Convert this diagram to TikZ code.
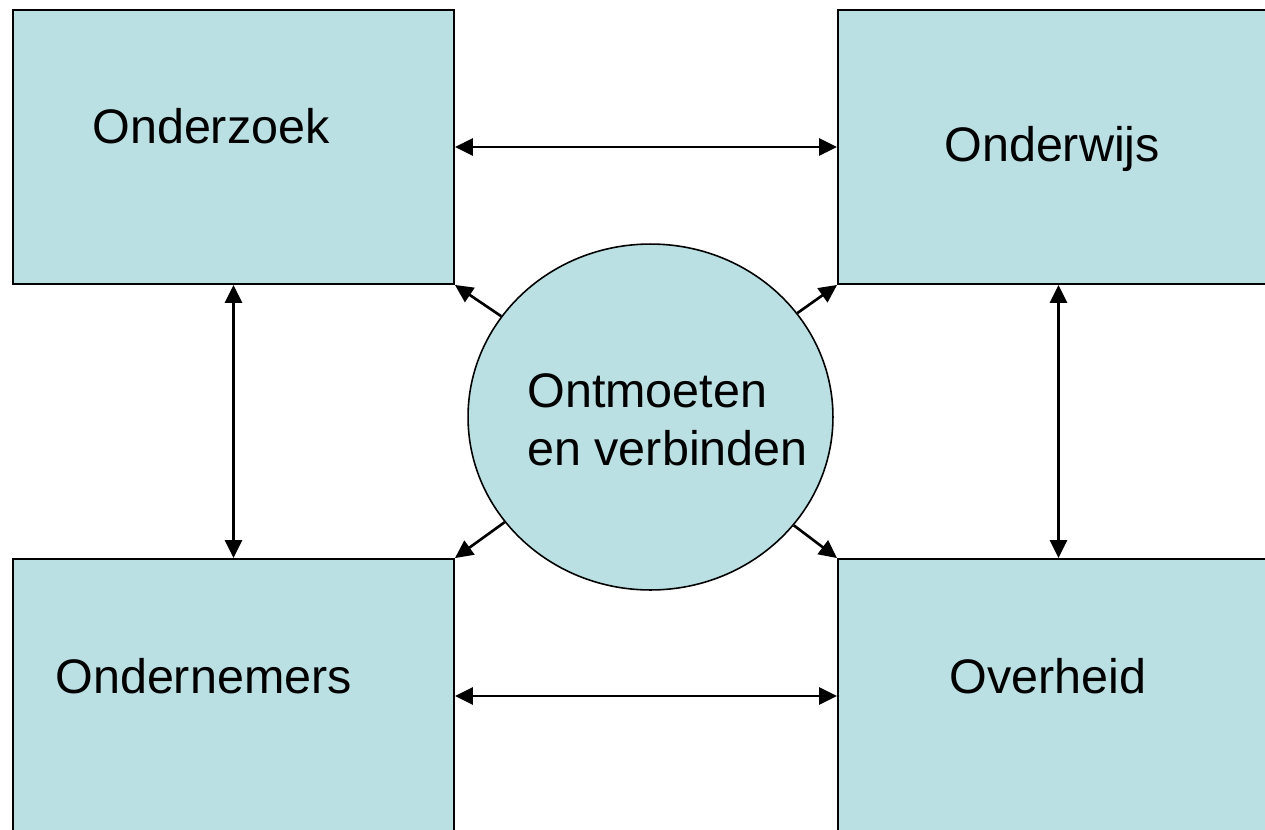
\documentclass[tikz,border=0pt]{standalone}
\usepackage{fontspec}
\setmainfont{Liberation Sans}
\usepackage{xcolor}
\usepackage{tikz}
\usetikzlibrary{positioning}
\usetikzlibrary{shapes.geometric, arrows.meta}
\definecolor{boxfill}{RGB}{186,224,227}
\tikzset{field/.style={rectangle, draw=black, line width=1.1pt, fill=boxfill, minimum width=8.82cm, minimum height=5.48cm}}
\tikzset{hub/.style={ellipse, draw=black, line width=0.9pt, fill=boxfill, minimum width=7.3cm, minimum height=6.92cm}}
\tikzset{lbl/.style={anchor=base west, inner sep=0pt, font=\fontsize{27.6}{33}\selectfont}}
\tikzset{link/.style={line width=1.5pt, {Triangle[length=0.36cm,width=0.34cm]}-{Triangle[length=0.36cm,width=0.34cm]}}}
\tikzset{spoke/.style={line width=1.5pt, -{Triangle[length=0.36cm,width=0.34cm]}}}

\begin{document}
\begin{tikzpicture}[x=0.02cm, y=-0.02cm]
		\useasboundingbox (0,0) rectangle (1265,829);
		\clip (0,0) rectangle (1265,829);

		\node[field] at (233.5,147) (onderzoek) {};
		\node[field] at (1058.5,147) (onderwijs) {};
		\node[field] at (233.5,696) (ondernemers) {};
		\node[field] at (1058.5,696) (overheid) {};
		\node[hub] at (650.5,417) (ontmoeten) {};

		\node[lbl] at (92,143) (t-onderzoek) {Onderzoek};
		\node[lbl] at (944,161) (t-onderwijs) {Onderwijs};
		\node[lbl] at (55,693) (t-ondernemers) {Ondernemers};
		\node[lbl] at (949,693) (t-overheid) {Overheid};
		\node[lbl] at (527,407) (t-ontmoeten) {Ontmoeten};
		\node[lbl] at (527,465) (t-verbinden) {en verbinden};

		\draw[link] (onderzoek) -- (onderwijs);
		\draw[link] (ondernemers) -- (overheid);
		\draw[link] (onderzoek) -- (ondernemers);
		\draw[link] (onderwijs) -- (overheid);

		\draw[spoke] (ontmoeten) -- (onderzoek.south east);
		\draw[spoke] (ontmoeten) -- (onderwijs.south west);
		\draw[spoke] (ontmoeten) -- (ondernemers.north east);
		\draw[spoke] (ontmoeten) -- (overheid.north west);
		\end{tikzpicture}
\end{document}
